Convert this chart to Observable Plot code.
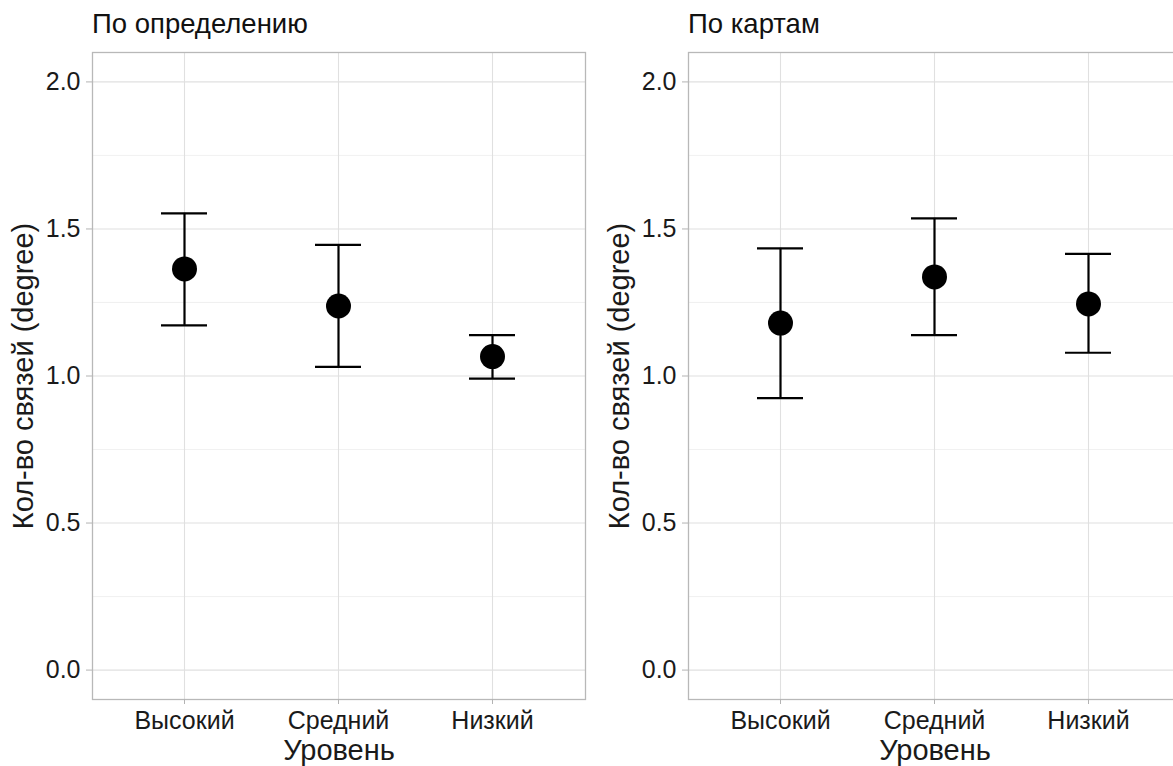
<!DOCTYPE html>
<html>
<head>
<meta charset="utf-8">
<script src="https://cdn.jsdelivr.net/npm/d3@7"></script>
<script src="https://cdn.jsdelivr.net/npm/@observablehq/plot@0.6"></script>
<style>
  html, body { margin: 0; padding: 0; background: #fff; }
  body { width: 1173px; height: 766px; overflow: hidden; font-family: "Liberation Sans", Arial, sans-serif; }
  #wrap { display: flex; flex-direction: row; width: 1192px; }
  .col { width: 596px; flex: 0 0 596px; }
  .title { height: 40px; box-sizing: border-box; padding-top: 10px; padding-left: 92px; font-size: 27.5px; line-height: 27.5px; color: #111; white-space: nowrap; }
  svg { display: block; }
</style>
</head>
<body>
<div id="wrap"></div>
<script>
// ---- data ----
const categories = ["Высокий", "Средний", "Низкий"];
const panelTitles = ["По определению", "По картам"];
const defMean = [1.364, 1.238, 1.066];
const defLow  = [1.172, 1.031, 0.991];
const defHigh = [1.553, 1.446, 1.139];
const mapMean = [1.180, 1.337, 1.245];
const mapLow  = [0.925, 1.139, 1.079];
const mapHigh = [1.434, 1.536, 1.415];
const yTicks = [0, 0.5, 1, 1.5, 2];
const yMinor = [0.25, 0.75, 1.25, 1.75];
const xLabel = "Уровень";
const yLabel = "Кол-во связей (degree)";

function panel(title, mean, low, high) {
  const data = categories.map((c, i) => ({cat: c, mean: mean[i], low: low[i], high: high[i]}));
  const col = document.createElement("div");
  col.className = "col";
  const t = document.createElement("div");
  t.className = "title";
  t.textContent = title;
  col.appendChild(t);
  const svg = Plot.plot({
    width: 596, height: 726,
    marginTop: 12, marginBottom: 67, marginLeft: 92, marginRight: 11,
    style: {fontFamily: "'Liberation Sans', Arial, sans-serif", fontSize: "25px", color: "#1a1a1a", background: "white"},
    x: {type: "band", domain: categories, paddingInner: 0.701, paddingOuter: 0.4505},
    y: {domain: [-0.1, 2.1]},
    marks: [
      Plot.ruleY(yMinor, {stroke: "#ececec", strokeWidth: 0.8}),
      Plot.ruleY(yTicks, {stroke: "#e0e0e0", strokeWidth: 1.1}),
      Plot.ruleX(categories, {x: d => d, stroke: "#e0e0e0", strokeWidth: 1.1}),
      Plot.frame({stroke: "#b8b8b8", strokeWidth: 1.3}),
      Plot.axisY(yTicks, {tickSize: 6, tickPadding: 6, stroke: "#b3b3b3", fill: "#1a1a1a", tickFormat: d3.format(".1f"), label: null}),
      Plot.axisX(categories, {tickSize: 5, tickPadding: 7, stroke: "#b3b3b3", fill: "#1a1a1a", label: null}),
      Plot.text([xLabel], {frameAnchor: "bottom", lineAnchor: "middle", textAnchor: "middle", dy: 51, fontSize: 29, fill: "#1a1a1a"}),
      Plot.text([yLabel], {frameAnchor: "left", lineAnchor: "middle", textAnchor: "middle", rotate: -90, dx: -69, fontSize: 29, fill: "#1a1a1a"}),
      Plot.ruleX(data, {x: "cat", y1: "low", y2: "high", stroke: "black", strokeWidth: 2.2}),
      Plot.tickY(data, {x: "cat", y: "low", stroke: "black", strokeWidth: 2.2}),
      Plot.tickY(data, {x: "cat", y: "high", stroke: "black", strokeWidth: 2.2}),
      Plot.dot(data, {x: "cat", y: "mean", r: 12.5, fill: "black", stroke: "none"})
    ]
  });
  col.appendChild(svg);
  return col;
}

const wrap = document.getElementById("wrap");
wrap.appendChild(panel(panelTitles[0], defMean, defLow, defHigh));
wrap.appendChild(panel(panelTitles[1], mapMean, mapLow, mapHigh));
</script>
</body>
</html>
